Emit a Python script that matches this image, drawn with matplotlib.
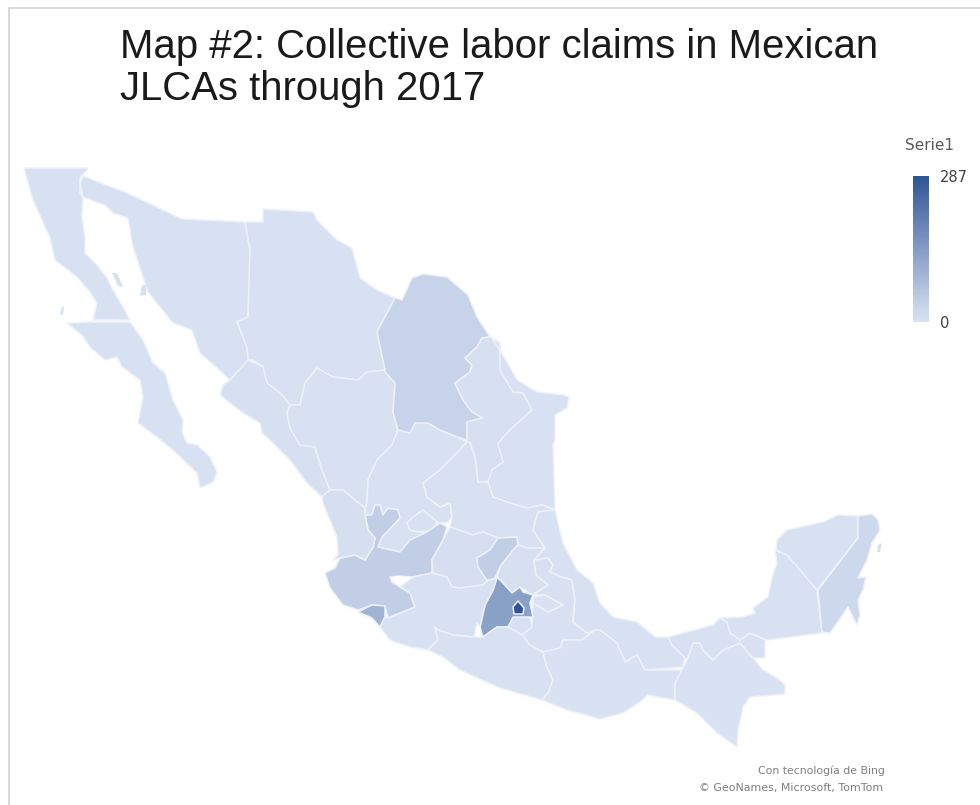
import matplotlib
matplotlib.use("Agg")
import matplotlib.pyplot as plt
from matplotlib.colors import LinearSegmentedColormap, Normalize
from matplotlib.patches import Polygon
import numpy as np

TITLE = "Map #2: Collective labor claims in Mexican\nJLCAs through 2017"
LEGEND_TITLE = "Serie1"
CREDIT_1 = "Con tecnología de Bing"
CREDIT_2 = "© GeoNames, Microsoft, TomTom"
VALUE_MIN = 0
VALUE_MAX = 287

# claims per state
states = ["Baja California", "Baja California Sur", "Sonora", "Chihuahua", "Sinaloa",
          "Durango", "Zacatecas", "Aguascalientes", "Jalisco", "Nayarit", "Colima",
          "Coahuila", "Nuevo Leon", "Tamaulipas", "San Luis Potosi", "Guanajuato",
          "Queretaro", "Hidalgo", "Puebla", "Tlaxcala", "Morelos", "Veracruz",
          "Mexico", "Ciudad de Mexico", "Michoacan", "Guerrero", "Oaxaca", "Chiapas",
          "Tabasco", "Campeche", "Yucatan", "Quintana Roo"]
claims = [4, 4, 4, 4, 6, 5, 5, 4, 42, 10, 97, 32, 6, 5, 4, 8, 42, 6, 4, 3, 5, 4,
          136, 287, 4, 4, 2, 3, 4, 4, 4, 22]

# state outlines (picture pixels)
outlines = {
    "Baja California": [(24,168),(88,168),(87,170),(80,178),(80,193),(83,198),(82,217),(85,237),(85,253),(97,265),(107,278),(113,290),(123,307),(130,320),(93,320),(97,303),(90,292),(77,277),(55,260),(50,238),(42,220),(33,200)],
    "Baja California Sur": [(90,322),(130,322),(143,340),(153,363),(165,373),(173,400),(183,420),(182,433),(187,443),(197,445),(210,457),(217,472),(213,482),(200,488),(197,473),(173,450),(157,437),(138,423),(143,397),(140,380),(122,367),(117,357),(105,360),(90,347),(82,335),(67,323)],
    "Sonora": [(83,176),(127,193),(182,219),(245,222),(250,250),(248,317),(237,322),(247,347),(248,360),(230,380),(217,368),(200,353),(192,330),(173,323),(148,292),(133,247),(128,218),(113,213),(105,205),(83,197),(80,183)],
    "Chihuahua": [(245,222),(263,222),(263,209),(313,212),(317,220),(337,240),(352,248),(360,278),(377,290),(395,298),(377,332),(385,370),(367,372),(358,380),(333,377),(317,368),(305,383),(300,405),(290,405),(280,393),(267,383),(263,367),(253,360),(248,360),(247,347),(237,322),(248,317),(250,250)],
    "Sinaloa": [(230,380),(248,360),(263,367),(267,383),(280,393),(290,405),(287,413),(290,428),(300,445),(315,447),(322,470),(328,485),(330,490),(322,497),(307,483),(290,460),(275,445),(262,433),(260,423),(243,413),(230,403),(220,395),(223,385)],
    "Durango": [(290,405),(300,405),(305,383),(317,368),(333,377),(358,380),(367,372),(385,370),(395,383),(393,413),(398,430),(392,445),(377,460),(368,480),(367,503),(365,508),(355,500),(343,490),(330,490),(328,485),(322,470),(315,447),(300,445),(290,428),(287,413)],
    "Zacatecas": [(398,430),(410,433),(415,423),(428,423),(440,430),(457,437),(467,442),(457,453),(440,470),(423,483),(427,497),(440,507),(450,503),(452,517),(447,523),(437,522),(423,510),(413,517),(407,523),(410,530),(420,532),(427,532),(410,540),(400,552),(382,548),(378,547),(382,537),(400,518),(398,510),(388,508),(383,515),(380,505),(375,505),(372,515),(365,515),(365,508),(367,503),(368,480),(377,460),(392,445)],
    "Aguascalientes": [(413,517),(423,510),(437,522),(433,530),(420,532),(410,530),(407,523)],
    "Jalisco": [(325,573),(330,588),(343,605),(358,610),(372,605),(385,606),(388,618),(415,607),(410,593),(400,587),(392,582),(390,577),(400,576),(413,577),(432,573),(432,560),(443,540),(447,527),(440,523),(427,532),(410,540),(400,552),(382,548),(378,547),(382,537),(400,518),(398,510),(388,508),(383,515),(380,505),(375,505),(372,515),(365,515),(368,530),(375,538),(373,547),(365,560),(355,555),(340,558),(335,568)],
    "Nayarit": [(322,497),(330,490),(343,490),(355,500),(365,508),(365,515),(368,530),(375,538),(373,547),(365,560),(355,555),(340,558),(332,560),(338,555),(337,537),(323,503)],
    "Colima": [(358,612),(372,605),(385,606),(385,617),(380,627),(372,618)],
    "Coahuila": [(395,298),(402,300),(412,278),(423,274),(447,277),(468,295),(477,317),(490,337),(482,338),(477,347),(465,358),(472,365),(470,372),(455,383),(463,400),(472,412),(483,418),(467,422),(467,440),(457,437),(440,430),(428,423),(415,423),(410,433),(398,430),(393,413),(395,383),(385,372),(385,370),(377,332)],
    "Nuevo Leon": [(490,337),(482,338),(477,347),(465,358),(472,365),(470,372),(455,383),(463,400),(472,412),(483,418),(467,422),(467,442),(470,443),(475,457),(478,482),(488,482),(492,470),(503,462),(498,443),(510,430),(532,410),(523,393),(513,392),(500,370),(500,343)],
    "Tamaulipas": [(492,338),(507,362),(517,380),(537,392),(563,395),(569,397),(567,408),(555,415),(555,440),(553,445),(555,510),(542,505),(527,508),(510,503),(493,497),(488,482),(492,470),(503,462),(498,443),(510,430),(532,410),(523,393),(513,392),(500,370),(500,343)],
    "San Luis Potosi": [(467,442),(470,443),(475,457),(478,482),(488,482),(493,497),(510,503),(527,508),(542,505),(555,510),(538,512),(533,530),(545,548),(527,548),(518,545),(517,537),(498,538),(483,532),(473,535),(450,527),(452,517),(450,503),(440,507),(427,497),(423,483),(440,470),(457,453)],
    "Guanajuato": [(450,527),(443,540),(432,560),(433,573),(447,577),(452,587),(460,588),(483,585),(488,580),(478,567),(477,558),(490,550),(498,538),(483,532),(473,535)],
    "Queretaro": [(498,538),(517,537),(518,545),(513,550),(500,567),(495,578),(488,582),(478,567),(477,558),(490,550)],
    "Hidalgo": [(513,550),(518,545),(527,548),(545,548),(534,560),(536,575),(548,585),(533,595),(520,587),(512,593),(503,583),(497,578),(500,567)],
    "Puebla": [(534,560),(548,558),(553,565),(550,572),(562,577),(572,580),(575,600),(573,622),(587,633),(595,630),(582,640),(563,640),(560,648),(543,652),(530,645),(522,635),(532,627),(532,617),(533,603),(548,612),(563,605),(545,595),(533,595),(548,585),(536,575)],
    "Tlaxcala": [(533,597),(545,595),(563,605),(548,612),(533,603)],
    "Morelos": [(508,627),(513,617),(530,617),(532,627),(522,635)],
    "Veracruz": [(555,510),(563,543),(577,570),(593,583),(600,603),(613,617),(637,622),(655,637),(668,637),(672,645),(685,655),(683,667),(645,670),(637,655),(625,662),(617,643),(600,630),(595,630),(587,633),(573,622),(575,600),(572,580),(562,577),(550,572),(553,565),(548,558),(534,560),(545,548),(533,530),(538,512)],
    "Mexico": [(497,577),(503,583),(512,593),(520,587),(523,592),(533,595),(530,603),(533,617),(513,617),(508,627),(497,627),(483,637),(480,627),(485,605),(493,590)],
    "Ciudad de Mexico": [(518,601),(524,608),(523,614),(514,614),(513,607)],
    "Michoacan": [(388,618),(415,607),(410,593),(400,587),(413,577),(432,573),(447,577),(452,587),(460,588),(483,585),(488,580),(497,578),(493,590),(485,605),(480,627),(477,623),(474,637),(453,635),(438,630),(435,627),(438,640),(428,650),(410,647),(390,640),(380,627),(385,617)],
    "Guerrero": [(428,650),(438,640),(435,627),(438,630),(453,635),(474,637),(483,637),(497,627),(508,627),(522,635),(530,645),(543,652),(547,667),(553,680),(548,693),(542,700),(500,688),(482,680),(460,670),(443,657)],
    "Oaxaca": [(543,652),(560,648),(563,640),(582,640),(595,630),(600,630),(617,643),(625,662),(637,655),(645,670),(682,670),(675,683),(675,700),(657,697),(648,695),(640,702),(623,713),(600,719),(567,710),(542,700),(548,693),(553,680),(547,667)],
    "Chiapas": [(683,668),(675,683),(675,700),(697,713),(717,733),(737,747),(738,730),(743,707),(750,697),(785,694),(785,685),(777,678),(763,670),(753,658),(740,643),(723,650),(713,660),(703,650),(700,643),(693,643),(687,660)],
    "Tabasco": [(668,637),(687,632),(713,625),(720,618),(727,622),(730,633),(740,640),(750,633),(765,640),(765,658),(753,658),(740,643),(723,650),(713,660),(703,650),(700,643),(693,643),(687,660),(672,645)],
    "Campeche": [(720,618),(743,617),(755,613),(753,608),(768,597),(772,578),(777,563),(775,550),(787,555),(800,570),(817,590),(822,633),(767,640),(750,633),(740,640),(730,633),(727,622)],
    "Yucatan": [(776,550),(777,540),(787,530),(823,522),(838,515),(858,516),(858,538),(817,590),(800,570),(787,555)],
    "Quintana Roo": [(858,516),(872,514),(878,520),(880,530),(872,543),(867,560),(858,578),(866,577),(863,590),(858,600),(860,615),(857,625),(848,607),(837,623),(830,633),(822,632),(818,590),(858,538)],
}

# small islands, no state line around them
islands = [
    [(112,273),(117,273),(123,287),(118,286)],
    [(142,285),(146,285),(146,295),(140,296)],
    [(62,307),(64,307),(63,315),(60,314)],
    [(878,545),(882,543),(880,552),(877,552)],
]
lake_chapala = [(391,578),(398,576),(410,578),(408,581),(395,581)]

shades = LinearSegmentedColormap.from_list("office_blue", ["#dae3f3", "#2f5597"])
norm = Normalize(VALUE_MIN, VALUE_MAX)

fig = plt.figure(figsize=(9.8, 8.05), dpi=100)
ax = fig.add_axes([0, 0, 1, 1])
ax.set_xlim(0, 980)
ax.set_ylim(805, 0)
ax.axis("off")

# chart frame, only top and left show in the crop
ax.plot([8.5, 8.5, 980], [805, 8.5, 8.5], color="#d9d9d9", lw=1.4)

for name, value in zip(states, claims):
    ax.add_patch(Polygon(outlines[name], closed=True, facecolor=shades(norm(value)),
                         edgecolor="#edf1f9", lw=1.1, joinstyle="round"))
for pts in islands:
    ax.add_patch(Polygon(pts, closed=True, facecolor=shades(norm(4)), edgecolor="none"))
ax.add_patch(Polygon(lake_chapala, closed=True, facecolor="white", edgecolor="none"))

ax.text(120, 68, TITLE, fontsize=28.9, family="Liberation Sans", color="#1a1a1a",
        ha="left", va="center", linespacing=1.13)

# legend
ax.text(905, 146, LEGEND_TITLE, fontsize=11, family="DejaVu Sans", color="#595959", va="center")
ramp = np.linspace(1, 0, 256).reshape(-1, 1)
ax.imshow(ramp, cmap=shades, extent=(913, 929, 322, 177), aspect="auto", zorder=3)
ax.set_xlim(0, 980)
ax.set_ylim(805, 0)
ax.text(940, 177, str(VALUE_MAX), fontsize=10.5, family="DejaVu Sans", color="#404040", va="center")
ax.text(940, 323, str(VALUE_MIN), fontsize=10.5, family="DejaVu Sans", color="#404040", va="center")

ax.text(885, 771, CREDIT_1, fontsize=7.8, family="DejaVu Sans", color="#7f7f7f", ha="right", va="center")
ax.text(883, 788, CREDIT_2, fontsize=7.9, family="DejaVu Sans", color="#7f7f7f", ha="right", va="center")

fig.savefig("out.png", dpi=100)
plt.close(fig)
